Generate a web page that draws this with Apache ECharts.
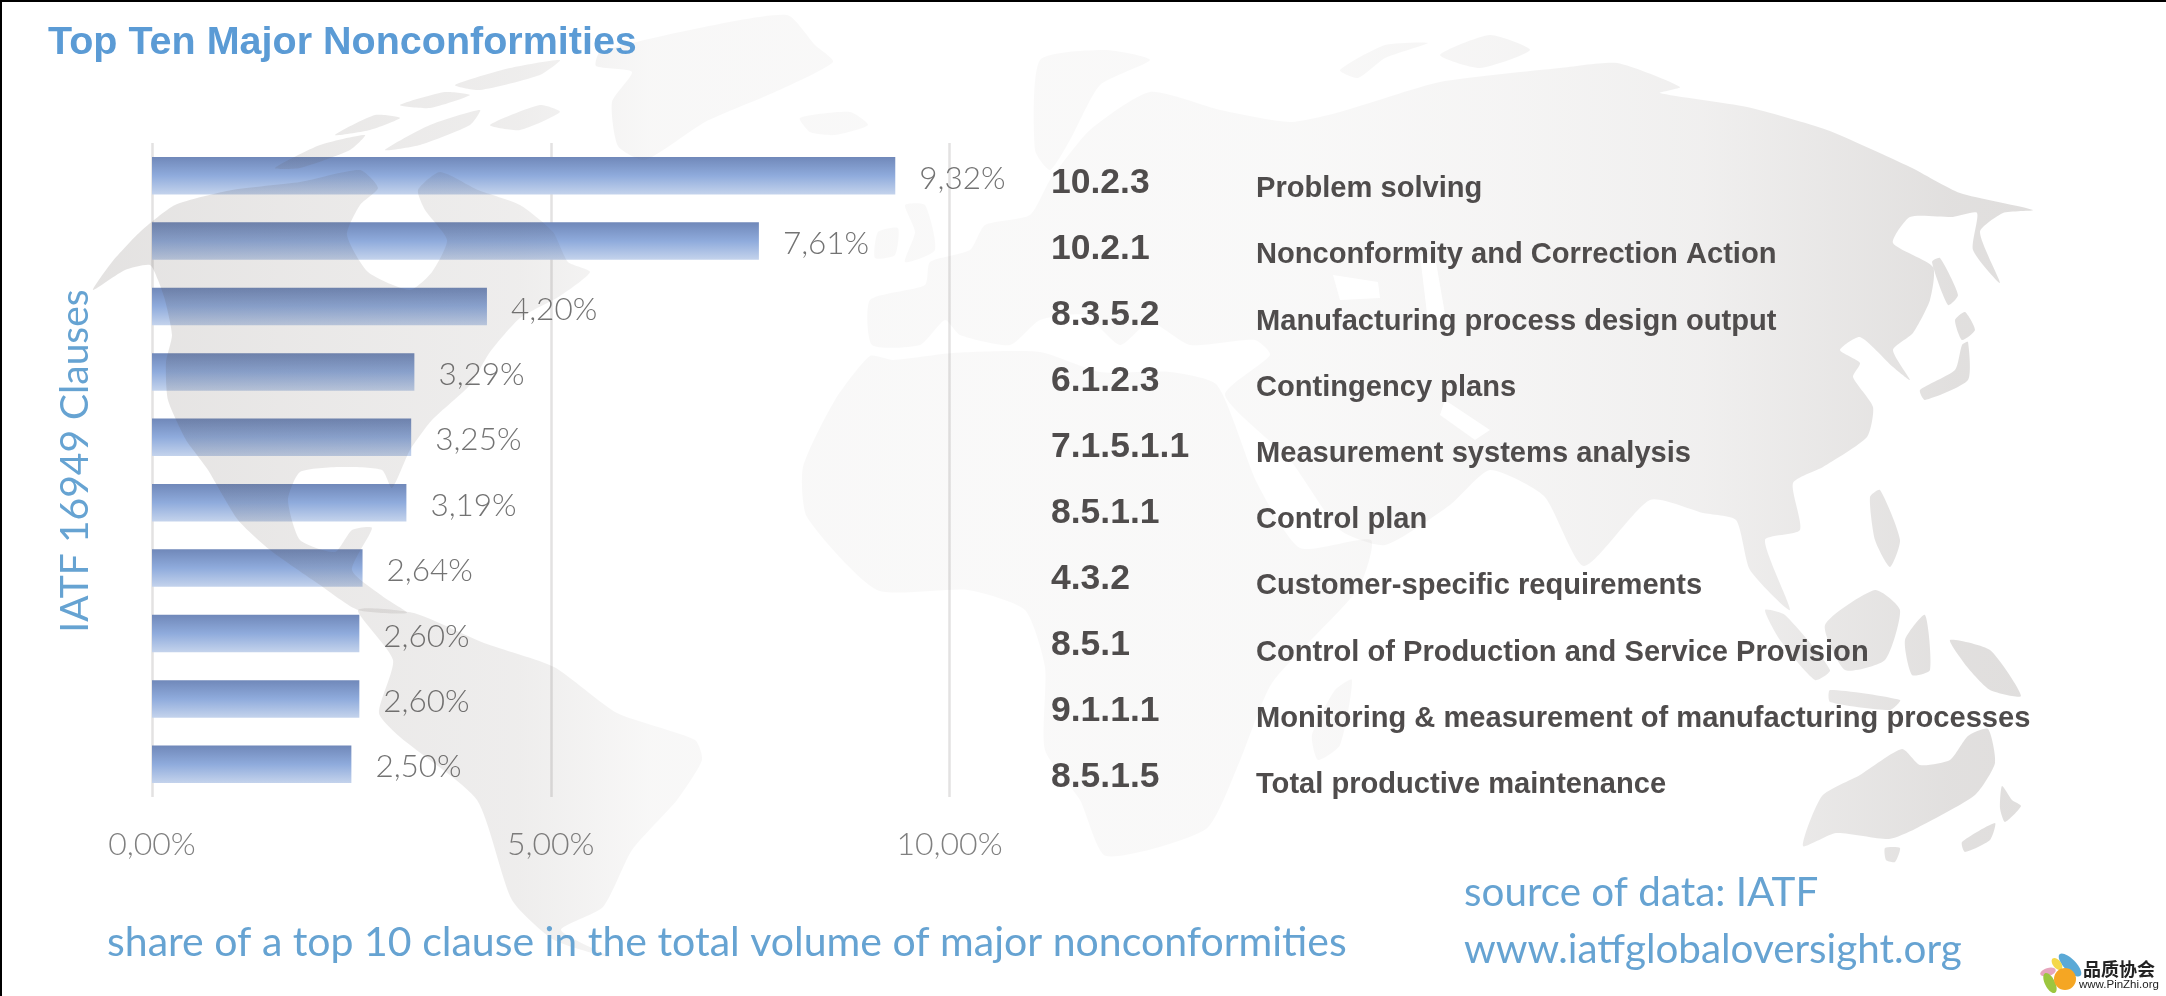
<!DOCTYPE html>
<html>
<head>
<meta charset="utf-8">
<title>Top Ten Major Nonconformities</title>
<script src="https://cdn.jsdelivr.net/npm/echarts@6/dist/echarts.min.js"></script>
<style>
  html, body { margin: 0; padding: 0; background: #fff; }
  #chart { width: 2166px; height: 996px; }
</style>
</head>
<body>
<div id="chart"></div>
<script>
// chart data
var clauses = ['10.2.3', '10.2.1', '8.3.5.2', '6.1.2.3', '7.1.5.1.1', '8.5.1.1', '4.3.2', '8.5.1', '9.1.1.1', '8.5.1.5'];
var clauseNames = [
  'Problem solving',
  'Nonconformity and Correction Action',
  'Manufacturing process design output',
  'Contingency plans',
  'Measurement systems analysis',
  'Control plan',
  'Customer-specific requirements',
  'Control of Production and Service Provision',
  'Monitoring & measurement of manufacturing processes',
  'Total productive maintenance'
];
var shares = [9.32, 7.61, 4.20, 3.29, 3.25, 3.19, 2.64, 2.60, 2.60, 2.50];
var tickLabels = { 0: '0,00%', 5: '5,00%', 10: '10,00%' };

// background world map, rough outlines in page pixels
var mapShapes = [
  // north america (hudson bay is an inlet)
  [[93,290],[112,262],[140,232],[175,205],[232,190],[300,182],[360,170],[378,188],[360,205],[347,235],[368,272],[410,290],[432,272],[447,240],[425,210],[418,190],[440,172],[478,190],[520,205],[553,232],[568,262],[590,272],[560,296],[520,318],[490,352],[470,385],[432,420],[410,450],[392,488],[382,470],[340,467],[300,472],[288,500],[300,540],[335,552],[352,530],[372,528],[352,570],[385,598],[407,613],[358,610],[320,585],[270,550],[238,520],[208,470],[197,455],[186,440],[168,400],[166,362],[172,335],[165,300],[158,280],[150,265],[125,270]],
  // arctic islands
  [[275,168],[320,145],[365,135],[350,150],[300,168]],
  [[335,135],[375,115],[400,118],[370,130]],
  [[385,150],[430,125],[480,110],[470,125],[420,145]],
  [[400,105],[445,92],[470,95],[430,108]],
  [[455,85],[510,68],[560,60],[540,75],[480,90]],
  [[490,125],[540,105],[560,112],[520,130]],
  // greenland
  [[600,52],[690,30],[787,15],[815,45],[833,62],[775,92],[705,122],[645,160],[618,146],[612,102],[632,72],[596,66]],
  // south america
  [[358,610],[414,613],[484,643],[554,667],[617,713],[695,740],[702,760],[677,800],[632,850],[603,907],[561,930],[610,957],[554,940],[512,900],[477,800],[400,737],[379,713],[393,660]],
  // africa
  [[870,356],[893,360],[953,353],[1040,352],[1100,372],[1170,372],[1217,385],[1257,483],[1300,548],[1371,540],[1358,589],[1272,683],[1239,763],[1206,829],[1106,856],[1080,800],[1045,750],[1045,667],[1025,610],[968,590],[877,590],[807,517],[803,467],[835,400]],
  // madagascar
  [[1335,690],[1352,680],[1340,745],[1318,760],[1312,735]],
  // eurasia
  [[870,300],[925,285],[930,262],[970,250],[985,225],[1030,215],[1050,180],[1090,130],[1150,92],[1220,110],[1290,122],[1340,112],[1440,82],[1560,68],[1617,63],[1680,87],[1660,93],[1747,107],[1827,130],[1910,167],[1960,193],[2033,210],[2003,213],[1980,232],[2000,283],[1973,250],[1977,213],[1953,217],[1910,217],[1893,243],[1933,267],[1930,300],[1913,333],[1893,350],[1910,380],[1893,367],[1860,337],[1840,350],[1860,363],[1853,377],[1873,407],[1867,437],[1823,467],[1793,483],[1800,530],[1765,540],[1790,610],[1750,570],[1736,520],[1703,513],[1650,500],[1584,566],[1544,496],[1490,470],[1450,505],[1385,545],[1340,530],[1290,460],[1225,395],[1270,355],[1255,340],[1190,345],[1150,322],[1120,345],[1085,315],[1040,320],[1010,345],[960,335],[945,320],[920,345],[872,345]],
  // baltic side, scandinavia
  [[1040,60],[1105,50],[1150,60],[1100,85],[1070,140],[1050,170],[1035,150]],
  // britain, ireland, iceland
  [[905,205],[925,205],[935,250],[905,262],[915,232]],
  [[878,232],[898,228],[895,255],[875,258]],
  [[800,118],[850,112],[868,125],[835,135],[810,132]],
  // novaya zemlya, siberia isles
  [[1340,70],[1385,45],[1428,43],[1385,58],[1358,78]],
  [[1440,55],[1490,35],[1530,50],[1480,68]],
  // sakhalin, japan
  [[1932,262],[1940,258],[1958,295],[1948,305]],
  [[1955,320],[1965,312],[1975,330],[1962,340]],
  [[1962,345],[1968,342],[1968,380],[1925,400],[1920,390],[1955,370]],
  // philippines, sumatra, borneo, java, guinea
  [[1870,497],[1880,490],[1900,540],[1890,567],[1875,540]],
  [[1765,610],[1785,615],[1830,670],[1815,680],[1780,640]],
  [[1825,625],[1875,590],[1900,610],[1885,660],[1845,670]],
  [[1830,690],[1900,700],[1890,710],[1830,702]],
  [[1905,640],[1925,615],[1930,670],[1912,675]],
  [[1950,640],[1990,650],[2021,696],[1990,690],[1968,668]],
  // australia, tasmania, new zealand
  [[1803,846],[1822,796],[1860,775],[1902,749],[1920,765],[1950,760],[1968,736],[1988,729],[1995,763],[1975,795],[1915,829],[1889,839],[1836,833]],
  [[1885,848],[1900,848],[1895,862],[1886,860]],
  [[2002,786],[2012,800],[2021,806],[2005,822],[2000,808]],
  [[1995,823],[1990,840],[1965,852],[1962,842]]
];
// black sea, caspian, persian gulf are cut back out of the land
var seaShapes = [
  [[1333,275],[1378,282],[1380,298],[1340,300]],
  [[1420,255],[1436,262],[1446,320],[1428,322]],
  [[1445,400],[1490,430],[1475,440],[1440,415]]
];

var blue = '#5b9bd5';
var softBlue = '#66a3d2';
var sansFont = 'Liberation Sans';
var lightFont = 'Lato';

var chart = echarts.init(document.getElementById('chart'), null, { width: 2166, height: 996 });

var landFill = new echarts.graphic.LinearGradient(0, 0, 2166, 0, [
  { offset: 0, color: 'rgba(90,80,75,0.18)' },
  { offset: 0.14, color: 'rgba(90,80,75,0.13)' },
  { offset: 0.24, color: 'rgba(90,80,75,0.1)' },
  { offset: 0.3, color: 'rgba(90,80,75,0.045)' },
  { offset: 0.46, color: 'rgba(90,80,75,0.035)' },
  { offset: 0.6, color: 'rgba(90,80,75,0.04)' },
  { offset: 0.69, color: 'rgba(90,80,75,0.06)' },
  { offset: 0.785, color: 'rgba(90,80,75,0.09)' },
  { offset: 0.9, color: 'rgba(90,80,75,0.18)' },
  { offset: 1, color: 'rgba(90,80,75,0.2)' }
], true);

var graphics = [];
mapShapes.forEach(function (pts) {
  graphics.push({ type: 'polygon', silent: true, z: 3, shape: { points: pts, smooth: 0.2 }, style: { fill: landFill } });
});
seaShapes.forEach(function (pts) {
  graphics.push({ type: 'polygon', silent: true, z: 3, shape: { points: pts }, style: { fill: '#fff' } });
});
// frame, only top and left are black in the picture
graphics.push({ type: 'rect', silent: true, z: 20, shape: { x: 0, y: 0, width: 2166, height: 2 }, style: { fill: '#000' } });
graphics.push({ type: 'rect', silent: true, z: 20, shape: { x: 0, y: 0, width: 2, height: 996 }, style: { fill: '#000' } });
// captions
graphics.push({ type: 'text', silent: true, z: 20, x: 107, y: 943, style: { text: 'share of a top 10 clause in the total volume of major nonconformities', fill: softBlue, font: '41px ' + lightFont, textVerticalAlign: 'middle' } });
graphics.push({ type: 'text', silent: true, z: 20, x: 1464, y: 893, style: { text: 'source of data: IATF', fill: softBlue, font: '40.4px ' + lightFont, textVerticalAlign: 'middle' } });
graphics.push({ type: 'text', silent: true, z: 20, x: 1464, y: 950, style: { text: 'www.iatfglobaloversight.org', fill: softBlue, font: '40.4px ' + lightFont, textVerticalAlign: 'middle' } });
// pinzhi logo
graphics.push({ type: 'ellipse', silent: true, z: 20, rotation: -0.8, x: 2070, y: 965, shape: { cx: 0, cy: 0, rx: 15, ry: 6 }, style: { fill: '#5aa9d6' } });
graphics.push({ type: 'ellipse', silent: true, z: 20, rotation: -0.9, x: 2057, y: 964, shape: { cx: 0, cy: 0, rx: 7, ry: 4 }, style: { fill: '#f4d84a' } });
graphics.push({ type: 'ellipse', silent: true, z: 20, rotation: 0.3, x: 2048, y: 972, shape: { cx: 0, cy: 0, rx: 8, ry: 4 }, style: { fill: '#e6a5bd' } });
graphics.push({ type: 'ellipse', silent: true, z: 20, rotation: -1.1, x: 2050, y: 983, shape: { cx: 0, cy: 0, rx: 11, ry: 5 }, style: { fill: '#9cc63f' } });
graphics.push({ type: 'circle', silent: true, z: 20, shape: { cx: 2065, cy: 979, r: 11 }, style: { fill: '#f5a623' } });
graphics.push({ type: 'text', silent: true, z: 20, x: 2083, y: 969, style: { text: '品质协会', fill: '#222', font: 'bold 18px "Noto Sans CJK SC"', textVerticalAlign: 'middle' } });
graphics.push({ type: 'text', silent: true, z: 20, x: 2079, y: 985, style: { text: 'www.PinZhi.org', fill: '#222', font: '11.5px ' + sansFont, textVerticalAlign: 'middle' } });

// text columns sit in their own thin grids, their row spacing differs a bit from the bars
function textAxis(index, list, font, size, weight, color) {
  return {
    type: 'category', gridIndex: index, inverse: true, data: list, z: 10,
    axisLine: { show: false }, axisTick: { show: false }, splitLine: { show: false },
    axisLabel: { inside: true, margin: 0, interval: 0, align: 'left', fontFamily: font, fontSize: size, fontWeight: weight, color: color }
  };
}
function hiddenAxis(index) {
  return { type: 'value', gridIndex: index, show: false, min: 0, max: 1 };
}

var option = {
  backgroundColor: '#fff',
  animation: false,
  title: {
    text: 'Top Ten Major Nonconformities', left: 43, top: 18,
    textStyle: { color: blue, fontFamily: sansFont, fontWeight: 'bold', fontSize: 39.5 }
  },
  grid: [
    { left: 152, top: 143, width: 797.5, height: 654 },
    { left: 1051, top: 150, width: 10, height: 660 },
    { left: 1256, top: 156, width: 10, height: 662 }
  ],
  xAxis: [
    {
      type: 'value', gridIndex: 0, min: 0, max: 10, interval: 5, z: 0,
      axisLine: { show: false }, axisTick: { show: false },
      splitLine: { show: true, lineStyle: { color: '#e3e2e2', width: 2.5 } },
      axisLabel: {
        margin: 32, fontFamily: lightFont, fontWeight: 300, fontSize: 32, color: '#808080',
        formatter: function (v) { return tickLabels[v]; }
      }
    },
    hiddenAxis(1),
    hiddenAxis(2)
  ],
  yAxis: [
    {
      type: 'category', gridIndex: 0, inverse: true, data: clauses, z: 10,
      axisLine: { show: false }, axisTick: { show: false }, axisLabel: { show: false },
      name: 'IATF 16949 Clauses', nameLocation: 'middle', nameGap: 57,
      nameTextStyle: { color: softBlue, fontFamily: lightFont, fontSize: 39, padding: [0, 0, 0, 18] }
    },
    textAxis(1, clauses, sansFont, 35.5, 'bold', '#4f4c4c'),
    textAxis(2, clauseNames, sansFont, 29.1, 'bold', '#4f4c4c')
  ],
  series: [{
    type: 'bar',
    xAxisIndex: 0,
    yAxisIndex: 0,
    z: 1,
    barWidth: 37.5,
    data: shares,
    itemStyle: {
      color: new echarts.graphic.LinearGradient(0, 0, 0, 1, [
        { offset: 0, color: '#7088b9' },
        { offset: 0.5, color: '#8fabdc' },
        { offset: 1, color: '#c4d3ec' }
      ])
    },
    label: {
      show: true, position: 'right', distance: 24, offset: [0, 3],
      fontFamily: lightFont, fontWeight: 300, fontSize: 31.5, color: '#737373',
      formatter: function (p) { return p.value.toFixed(2).replace('.', ',') + '%'; }
    }
  }],
  graphic: { elements: graphics }
};

chart.setOption(option);
</script>
</body>
</html>
